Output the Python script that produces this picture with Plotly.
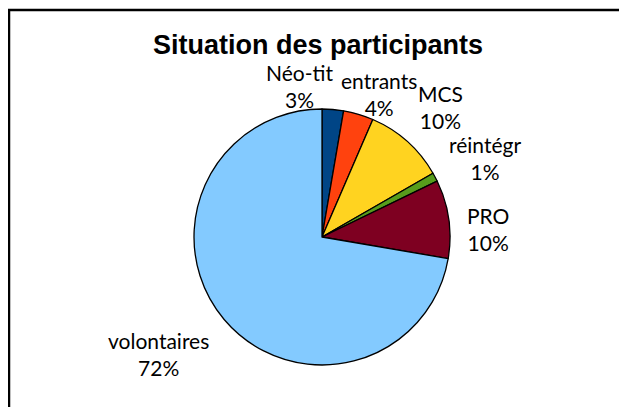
import plotly.graph_objects as go

W, H = 627, 407
OFF = 8  # the page body adds an 8px margin round the figure
FW, FH = W - OFF, H - OFF

# Slice data (clockwise from 12 o'clock)
labels = ["Néo-tit", "entrants", "MCS", "réintégr", "PRO", "volontaires"]
values = [2.7, 3.8, 10.2, 1.1, 9.9, 72.3]
colors = ["#004586", "#ff420e", "#ffd320", "#579d1c", "#7e0021", "#83caff"]

# where each label block sits (pixel centre in the 627x407 picture)
label_xy = [(299, 86), (379, 94), (440, 107), (485, 158), (488, 229), (158, 354)]


def px(x, y):
    """Picture pixel -> paper coordinates of the figure."""
    return (x - OFF) / FW, 1 - (y - OFF) / FH


fig = go.Figure()
dx0, dy1 = px(194, 109)
dx1, dy0 = px(450, 365)
fig.add_pie(
    labels=labels,
    values=values,
    sort=False,
    direction="clockwise",
    rotation=0,
    marker=dict(colors=colors, line=dict(color="black", width=1.3)),
    textinfo="none",
    hoverinfo="label+percent",
    showlegend=False,
    domain=dict(x=[dx0, dx1], y=[dy0, dy1]),
)

total = sum(values)
for lab, val, (x, y) in zip(labels, values, label_xy, strict=True):
    ax, ay = px(x, y)
    fig.add_annotation(
        x=ax, y=ay, xref="paper", yref="paper",
        text=f"{lab}<br>{round(100 * val / total)}%",
        showarrow=False, xanchor="center", yanchor="middle",
        font=dict(family="Lato", size=21, color="black"),
    )

tx, ty = px(318.5, 45)
fig.add_annotation(
    x=tx, y=ty, xref="paper", yref="paper",
    text="<b>Situation des participants</b>",
    showarrow=False, xanchor="center", yanchor="middle",
    font=dict(family="Liberation Sans", size=27, color="black"),
)

# chart-area frame (runs past the right and bottom edges of the crop)
x0, y1 = px(9, 10)
fig.add_shape(
    type="rect", xref="paper", yref="paper",
    x0=x0, y0=-0.1, x1=1.1, y1=y1,
    line=dict(color="black", width=2.5),
)

fig.update_layout(
    width=FW, height=FH,
    margin=dict(l=0, r=0, t=0, b=0),
    paper_bgcolor="white",
    plot_bgcolor="white",
)

fig.write_html("out.html")
